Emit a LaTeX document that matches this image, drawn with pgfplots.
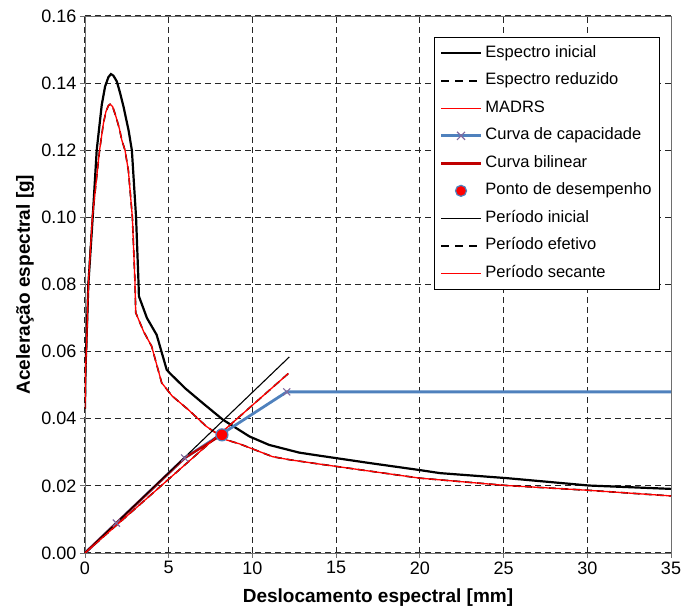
\documentclass[border=0pt]{standalone}
\usepackage{pgfplots}
\pgfplotsset{compat=1.18}
\usepackage{fontspec}
\setmainfont{Liberation Sans}

\definecolor{capblue}{RGB}{79,129,189}
\definecolor{markpurple}{RGB}{128,105,160}
\definecolor{bilred}{RGB}{192,0,0}
\definecolor{axgray}{RGB}{110,110,110}

% espectro inicial
\pgfplotstableread{
D Sa
0 0.043
0.03 0.055
0.1 0.065
0.2 0.080
0.46 0.100
0.7 0.120
1.0 0.1335
1.2 0.1390
1.4 0.1418
1.55 0.1427
1.7 0.1422
1.9 0.1405
2.1 0.1370
2.3 0.1330
2.6 0.1260
2.8 0.1200
3.05 0.1000
3.2 0.0800
3.22 0.0765
3.7 0.0700
4.28 0.0650
4.88 0.0546
5.06 0.0536
6.0 0.0490
7.0 0.0448
8.24 0.0397
9.83 0.0347
11.0 0.0322
12.8 0.0299
14.0 0.0290
17.0 0.0268
20.0 0.0247
21.2 0.0238
25.2 0.0223
30.1 0.0201
35.0 0.0191
}\inicial

% espectro reduzido / MADRS
\pgfplotstableread{
D Sa
0 0.043
0.03 0.054
0.1 0.063
0.2 0.080
0.44 0.100
0.87 0.120
1.1 0.1280
1.25 0.1315
1.4 0.1333
1.5 0.1337
1.65 0.1330
1.85 0.1300
2.05 0.1265
2.2 0.1230
2.39 0.1200
2.59 0.1140
2.83 0.1000
2.99 0.0800
3.03 0.0716
3.5 0.0660
3.98 0.0616
4.58 0.0507
5.2 0.0468
6.17 0.0427
7.25 0.0377
8.44 0.0337
9.24 0.0325
11.2 0.0287
12.2 0.0278
14.0 0.0265
17.0 0.0244
20.0 0.0223
25.2 0.0201
30.0 0.0187
35.0 0.0170
}\reduzido

\pgfplotstableread{
D Sa
0 0
1.87 0.0089
5.95 0.0283
12.05 0.0480
35 0.0480
}\capacidade

\begin{document}
\begin{tikzpicture}
\begin{axis}[
    scale only axis,
    width=586pt, height=537pt,
    xmin=0, xmax=35,
    ymin=0, ymax=0.16,
    xtick={0,5,10,15,20,25,30,35},
    ytick={0,0.02,0.04,0.06,0.08,0.10,0.12,0.14,0.16},
    yticklabel style={/pgf/number format/.cd, fixed, fixed zerofill, precision=2},
    /pgf/number format/assume math mode=true,
    ticklabel style={font=\fontsize{18}{20}\selectfont},
    xtick pos=bottom, ytick pos=left,
    tick align=outside,
    major tick length=5pt,
    tick style={axgray, line width=0.8pt},
    axis line style={axgray, line width=0.8pt},
    grid=major,
    major grid style={black!85, line width=1pt, dash pattern=on 6pt off 4pt},
    xlabel={\bfseries Deslocamento espectral [mm]},
    ylabel={\bfseries Aceleração espectral [g]},
    label style={font=\fontsize{19}{21}\selectfont},
    x label style={at={(axis description cs:0.5,-0.0838)}, anchor=center},
    y label style={at={(axis description cs:-0.1024,0.5)}, anchor=center},
    legend style={at={(0.981,0.961)}, anchor=north east,
        draw=black, line width=0.8pt, fill=white,
        font=\fontsize{16.5}{18}\selectfont,
        row sep=7.5pt, inner xsep=5pt, inner ysep=6pt,
        nodes={text height=12pt, text depth=4pt, inner xsep=3pt, inner ysep=2pt},
        cells={anchor=west}},
    legend cell align=left,
]
% legend entries
\addlegendimage{legend image code/.code={\draw[black, line width=2.2pt] (0pt,0pt) -- (40pt,0pt);}}
\addlegendentry{Espectro inicial}
\addlegendimage{legend image code/.code={\draw[black, line width=1.6pt, dash pattern=on 8pt off 6pt] (0pt,0pt) -- (40pt,0pt);}}
\addlegendentry{Espectro reduzido}
\addlegendimage{legend image code/.code={\draw[red, line width=1.3pt] (0pt,0pt) -- (40pt,0pt);}}
\addlegendentry{MADRS}
\addlegendimage{legend image code/.code={\draw[capblue, line width=2.8pt] (0pt,0pt) -- (40pt,0pt);
    \draw[markpurple, line width=1.2pt] (16pt,-4pt) -- (24pt,4pt) (16pt,4pt) -- (24pt,-4pt);}}
\addlegendentry{Curva de capacidade}
\addlegendimage{legend image code/.code={\draw[bilred, line width=2.8pt] (0pt,0pt) -- (40pt,0pt);}}
\addlegendentry{Curva bilinear}
\addlegendimage{legend image code/.code={\fill[red, draw=capblue, line width=1.2pt] (20pt,0pt) circle (5.5pt);}}
\addlegendentry{Ponto de desempenho}
\addlegendimage{legend image code/.code={\draw[black, line width=1.1pt] (0pt,0pt) -- (40pt,0pt);}}
\addlegendentry{Período inicial}
\addlegendimage{legend image code/.code={\draw[black, line width=1.6pt, dash pattern=on 8pt off 6pt] (0pt,0pt) -- (40pt,0pt);}}
\addlegendentry{Período efetivo}
\addlegendimage{legend image code/.code={\draw[red, line width=1.3pt] (0pt,0pt) -- (40pt,0pt);}}
\addlegendentry{Período secante}

% spectra
\addplot[black, line width=2.2pt, forget plot] table[x=D, y=Sa] {\inicial};
\addplot[black, line width=1.6pt, dash pattern=on 7pt off 5pt, forget plot] table[x=D, y=Sa] {\reduzido};
\addplot[red, line width=1.3pt, forget plot] table[x=D, y=Sa] {\reduzido};
% capacity and bilinear
\addplot[capblue, line width=2.8pt, forget plot] table[x=D, y=Sa] {\capacidade};
\addplot[bilred, line width=2.2pt, forget plot] coordinates {(0,0) (5.95,0.0283) (8.18,0.0352)};
\addplot[only marks, mark=x, mark size=5pt, mark options={markpurple, line width=1.2pt}, forget plot]
    coordinates {(1.87,0.0089) (5.95,0.0283) (12.05,0.0480)};
% periods
\addplot[black, line width=1.1pt, forget plot] coordinates {(0,0) (12.2,0.0584)};
\addplot[black, line width=1.6pt, dash pattern=on 7pt off 5pt, forget plot] coordinates {(0,0) (12.15,0.0535)};
\addplot[red, line width=1.3pt, forget plot] coordinates {(0,0) (12.15,0.0535)};
% performance point
\addplot[only marks, mark=*, mark size=6pt, mark options={fill=red, draw=capblue, line width=1.2pt}, forget plot]
    coordinates {(8.18,0.0352)};
\coordinate (ll) at (rel axis cs:0,0);
\coordinate (ur) at (rel axis cs:1,1);
\end{axis}
\pgfresetboundingbox
\path[use as bounding box] ([shift={(-85pt,-57pt)}]ll) rectangle ([shift={(10pt,16pt)}]ur);
\end{tikzpicture}
\end{document}
